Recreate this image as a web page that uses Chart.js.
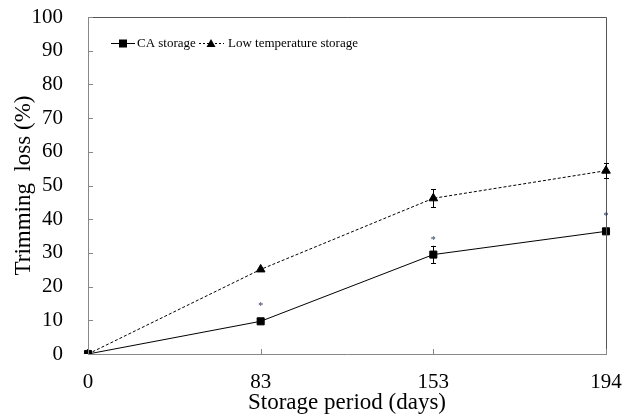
<!DOCTYPE html>
<html><head><meta charset="utf-8">
<script src="https://cdn.jsdelivr.net/npm/chart.js@4"></script>
<style>html,body{margin:0;padding:0;background:#fff}#wrap{width:632px;height:417px}</style>
</head><body><div id="wrap"><canvas id="c" width="632" height="417"></canvas></div>
<script>
const categories = ['0', '83', '153', '194'];
const caValues = [0, 9.7, 29.5, 36.4];
const caErrors = [0, 0, 2.6, 0];
const lowValues = [0, 25.1, 46.2, 54.4];
const lowErrors = [0, 0, 2.7, 2.2];
const asteriskValues = [null, 14.8, 34.4, 41.3];
const yTicks = [0, 10, 20, 30, 40, 50, 60, 70, 80, 90, 100];
const seriesNames = ['CA storage', 'Low temperature storage'];
const yTitle = 'Trimming  loss (%)';
const xTitle = 'Storage period (days)';

const FONT = '"Liberation Serif", "Times New Roman", serif';

const decor = {
  id: 'decor',
  afterDatasetsDraw(chart) {
    const ctx = chart.ctx, x = chart.scales.x, y = chart.scales.y, a = chart.chartArea;
    ctx.save();
    // frame top/right
    ctx.strokeStyle = '#555';
    ctx.lineWidth = 1;
    ctx.beginPath();
    ctx.moveTo(a.left, a.top + 0.5); ctx.lineTo(a.right + 0.5, a.top + 0.5); ctx.lineTo(a.right + 0.5, a.bottom);
    ctx.stroke();
    // inward ticks
    ctx.strokeStyle = '#888';
    ctx.beginPath();
    yTicks.forEach(v => { const py = Math.round(y.getPixelForValue(v)) + 0.5; ctx.moveTo(a.left, py); ctx.lineTo(a.left + 5, py); });
    categories.forEach((c, i) => { const px = Math.round(x.getPixelForValue(i)) + 0.5; ctx.moveTo(px, a.bottom); ctx.lineTo(px, a.bottom - 5); });
    ctx.stroke();
    // error bars
    ctx.strokeStyle = '#000';
    ctx.lineWidth = 1;
    const drawErr = (vals, errs) => {
      vals.forEach((v, i) => {
        if (!errs[i]) return;
        const px = Math.round(x.getPixelForValue(i)) + 0.5;
        const t = y.getPixelForValue(v + errs[i]), b = y.getPixelForValue(v - errs[i]);
        ctx.beginPath();
        ctx.moveTo(px, t); ctx.lineTo(px, b);
        ctx.moveTo(px - 2.5, Math.round(t) + 0.5); ctx.lineTo(px + 2.5, Math.round(t) + 0.5);
        ctx.moveTo(px - 2.5, Math.round(b) + 0.5); ctx.lineTo(px + 2.5, Math.round(b) + 0.5);
        ctx.stroke();
      });
    };
    drawErr(caValues, caErrors);
    drawErr(lowValues, lowErrors);
    // asterisks
    ctx.fillStyle = '#1f2f55';
    ctx.font = '10px ' + FONT;
    ctx.textAlign = 'center';
    ctx.textBaseline = 'middle';
    asteriskValues.forEach((v, i) => {
      if (v == null) return;
      ctx.fillText('*', x.getPixelForValue(i), y.getPixelForValue(v) + 2);
    });
    // legend
    const ly = 43;
    ctx.strokeStyle = '#000';
    ctx.fillStyle = '#000';
    ctx.lineWidth = 1;
    ctx.beginPath(); ctx.moveTo(111, ly + 0.5); ctx.lineTo(135, ly + 0.5); ctx.stroke();
    ctx.fillRect(119, ly - 3.5, 8, 8);
    ctx.font = '13px ' + FONT;
    ctx.textAlign = 'left';
    ctx.textBaseline = 'middle';
    ctx.fillText(seriesNames[0], 137, ly + 1);
    ctx.setLineDash([2, 2]);
    ctx.beginPath(); ctx.moveTo(199, ly + 0.5); ctx.lineTo(224, ly + 0.5); ctx.stroke();
    ctx.setLineDash([]);
    ctx.beginPath(); ctx.moveTo(211, ly - 4); ctx.lineTo(215.5, ly + 4); ctx.lineTo(206.5, ly + 4); ctx.closePath(); ctx.fill();
    ctx.fillText(seriesNames[1], 228, ly + 1);
    ctx.restore();
  }
};

new Chart(document.getElementById('c'), {
  type: 'line',
  data: {
    labels: categories,
    datasets: [
      { label: seriesNames[0], data: caValues, borderColor: '#000', backgroundColor: '#000', borderWidth: 1,
        pointStyle: 'rect', pointRadius: 5, pointBackgroundColor: '#000', pointBorderColor: '#000', tension: 0 },
      { label: seriesNames[1], data: lowValues, borderColor: '#000', backgroundColor: '#000', borderWidth: 1, borderDash: [3, 2],
        pointStyle: 'triangle', pointRadius: 5, pointBackgroundColor: '#000', pointBorderColor: '#000', tension: 0 }
    ]
  },
  options: {
    responsive: false,
    animation: false,
    devicePixelRatio: 1,
    layout: { padding: { top: 17, right: 26, left: 0, bottom: 0 } },
    plugins: { legend: { display: false }, tooltip: { enabled: false } },
    scales: {
      x: {
        type: 'category',
        offset: false,
        grid: { display: false, drawTicks: false },
        border: { color: '#888', width: 1 },
        ticks: { color: '#000', font: { family: FONT, size: 21 }, padding: 16, maxRotation: 0 },
        title: { display: true, text: xTitle, color: '#000', font: { family: FONT, size: 23 }, padding: { top: 0, bottom: 0 } },
        afterFit(s) { s.height = 63; s.paddingLeft = 0; s.paddingRight = 0; }
      },
      y: {
        min: 0, max: 100,
        afterBuildTicks(s) { s.ticks = yTicks.map(v => ({ value: v })); },
        grid: { display: false, drawTicks: false },
        border: { color: '#888', width: 1 },
        ticks: { color: '#000', font: { family: FONT, size: 21 }, padding: 25 },
        title: { display: true, text: yTitle, color: '#000', font: { family: FONT, size: 23 }, padding: { top: 10, bottom: 0 } },
        afterFit(s) { s.width = 88; s.paddingTop = 0; s.paddingBottom = 0; }
      }
    }
  },
  plugins: [decor]
});
</script>
</body></html>
